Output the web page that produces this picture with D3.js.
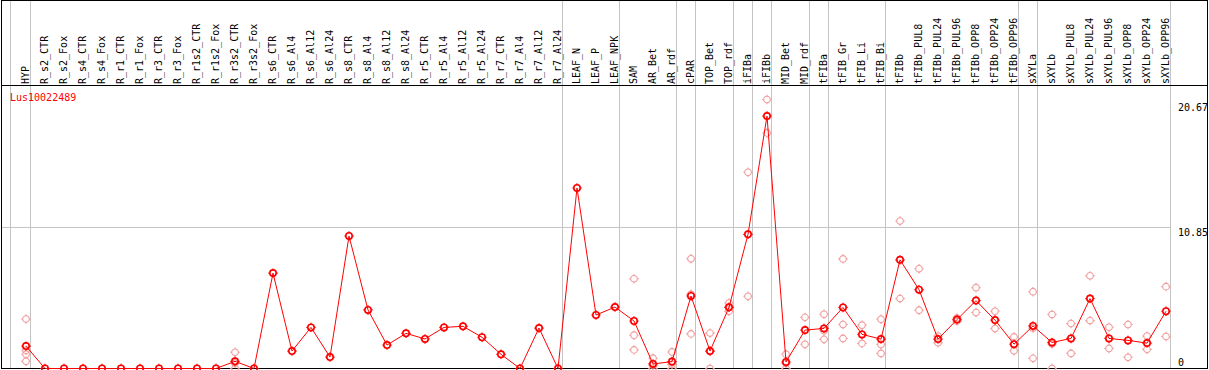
<!DOCTYPE html>
<html>
<head>
<meta charset="utf-8">
<script src="https://cdn.jsdelivr.net/npm/d3@7"></script>
<style>
  html, body { margin: 0; padding: 0; background: #fff; }
  svg { display: block; }
  text { font-family: "DejaVu Sans Mono", monospace; font-size: 10px; }
</style>
</head>
<body>
<svg id="chart" width="1209" height="370"></svg>
<script>
const geneId = "Lus10022489";

const samples = [
  "HYP", "R_s2_CTR", "R_s2_Fox", "R_s4_CTR", "R_s4_Fox", "R_r1_CTR", "R_r1_Fox",
  "R_r3_CTR", "R_r3_Fox", "R_r1s2_CTR", "R_r1s2_Fox", "R_r3s2_CTR", "R_r3s2_Fox",
  "R_s6_CTR", "R_s6_Al4", "R_s6_Al12", "R_s6_Al24", "R_s8_CTR", "R_s8_Al4",
  "R_s8_Al12", "R_s8_Al24", "R_r5_CTR", "R_r5_Al4", "R_r5_Al12", "R_r5_Al24",
  "R_r7_CTR", "R_r7_Al4", "R_r7_Al12", "R_r7_Al24", "LEAF_N", "LEAF_P", "LEAF_NPK",
  "SAM", "AR_Bet", "AR_rdf", "cPAR", "TOP_Bet", "TOP_rdf", "iFIBa", "iFIBb",
  "MID_Bet", "MID_rdf", "tFIBa", "tFIB_Gr", "tFIB_Li", "tFIB_Bi", "tFIBb",
  "tFIBb_PUL8", "tFIBb_PUL24", "tFIBb_PUL96", "tFIBb_OPP8", "tFIBb_OPP24", "tFIBb_OPP96",
  "sXYLa", "sXYLb", "sXYLb_PUL8", "sXYLb_PUL24", "sXYLb_PUL96", "sXYLb_OPP8",
  "sXYLb_OPP24", "sXYLb_OPP96"
];

const meanValues = [
  1.72, 0, 0, 0, 0, 0, 0, 0, 0, 0, 0, 0.55, 0,
  7.33, 1.34, 3.16, 0.88, 10.18, 4.5, 1.8, 2.7,
  2.27, 3.16, 3.24, 2.4, 1.09, 0, 3.11, 0,
  13.87, 4.11, 4.72,
  3.65, 0.35, 0.53, 5.57, 1.34, 4.7, 10.31, 19.4,
  0.5, 2.95, 3.08, 4.69, 2.62, 2.26, 8.35,
  6.06, 2.26, 3.76, 5.22, 3.72, 1.87,
  3.27, 2.0, 2.31, 5.37, 2.31, 2.16, 1.95, 4.4
];

const replicateValues = [
  [3.8, 1.4, 1.1, 0.55], [], [], [], [], [], [], [], [], [], [], [1.25, 0.4, 0], [],
  [], [], [], [], [], [], [], [],
  [], [], [], [], [], [], [], [],
  [], [], [],
  [6.89, 2.56, 1.43], [0.79, 0.25, 0], [1.27, 0.32, 0], [8.43, 5.7, 2.66],
  [2.72, 1.33, 0], [5.03, 4.72, 4.39], [15.08, 5.55], [20.67, 18.1],
  [1.1, 0.4, 0], [3.93, 1.86], [4.17, 2.9, 2.24], [8.42, 3.38, 2.31],
  [3.33, 1.93], [3.78, 1.85, 1.16], [11.33, 5.37],
  [7.66, 4.48], [2.49, 1.97], [3.88, 3.64], [6.21, 4.3], [4.4, 3.07], [2.43, 1.36],
  [5.9, 3.1, 0.78], [4.15, 1.89, 0], [3.45, 1.16], [7.12, 3.68], [3.17, 1.54],
  [3.38, 0.86], [2.49, 1.47], [6.29, 2.46]
];

const yTickValues = [0, 10.85, 20.67];
const yGridValues = [10.85];
// indices of samples after which a group separator is drawn
const groupEnds = [0, 28, 31, 34, 35, 37, 38, 39, 41, 42, 45, 52, 53, 60];

const svg = d3.select("#chart");
const headerBottom = 85.5, plotBottom = 368.5;
const left = 1.5, right = 1207.5;

const x = d3.scaleBand().domain(samples).range([11.5, 1170.5]).paddingInner(0).paddingOuter(0);
const xPoint = s => x(s) + 14.5;
const y = d3.scaleLinear().domain([0, 20.67]).range([plotBottom, 99.5]);

const gray = "#c4c4c4";
const red = "#ff0000";
const pink = "#f29b9b";

// vertical group separators (full height)
const sepX = [10.5].concat(groupEnds.map(i => x(samples[i]) + x.bandwidth()));
svg.append("g").selectAll("line").data(sepX).join("line")
  .attr("x1", d => d).attr("x2", d => d)
  .attr("y1", 0).attr("y2", plotBottom)
  .attr("stroke", gray).attr("stroke-width", 1);

// horizontal grid
svg.append("g").selectAll("line").data(yGridValues).join("line")
  .attr("x1", left).attr("x2", 1170.5)
  .attr("y1", d => Math.round(y(d)) + 0.5).attr("y2", d => Math.round(y(d)) + 0.5)
  .attr("stroke", gray).attr("stroke-width", 1);

// frame
svg.append("rect").attr("x", left).attr("y", 0.5)
  .attr("width", right - left).attr("height", plotBottom - 0.5)
  .attr("fill", "none").attr("stroke", "#000").attr("stroke-width", 1);
svg.append("line").attr("x1", left).attr("x2", right)
  .attr("y1", headerBottom).attr("y2", headerBottom)
  .attr("stroke", "#000").attr("stroke-width", 1);

// header labels
svg.append("g").selectAll("text").data(samples).join("text")
  .attr("transform", d => `translate(${xPoint(d) + 3.4},84) rotate(-90)`)
  .attr("text-anchor", "start")
  .attr("fill", "#000")
  .text(d => d);

// y tick labels
svg.append("g").selectAll("text").data(yTickValues).join("text")
  .attr("x", 1178)
  .attr("y", d => Math.max(111, Math.min(366, y(d) + 8.7)))
  .attr("fill", "#000")
  .text(d => d === 0 ? "0" : d3.format(".2f")(d));

// gene id
svg.append("text").attr("x", 10).attr("y", 101).attr("fill", red).text(geneId);

function marker(g, r, tick, color, sw, tsw) {
  g.append("circle").attr("r", r).attr("fill", "none").attr("stroke", color).attr("stroke-width", sw);
  [[0, -1], [0, 1], [-1, 0], [1, 0]].forEach(([dx, dy]) => {
    g.append("line")
      .attr("x1", dx * r).attr("y1", dy * r)
      .attr("x2", dx * (r + tick)).attr("y2", dy * (r + tick))
      .attr("stroke", color).attr("stroke-width", tsw);
  });
}

// replicate points
const reps = [];
samples.forEach((s, i) => replicateValues[i].forEach(v => reps.push({ s, v })));
svg.append("g").selectAll("g").data(reps).join("g")
  .attr("transform", d => `translate(${xPoint(d.s)},${y(d.v)})`)
  .each(function () { marker(d3.select(this), 3.3, 1.4, pink, 1.1, 1.1); });

// mean line
const means = samples.map((s, i) => ({ s, v: meanValues[i] }));
svg.append("path").datum(means)
  .attr("d", d3.line().x(d => xPoint(d.s)).y(d => y(d.v)))
  .attr("fill", "none").attr("stroke", red).attr("stroke-width", 1);

// mean points
svg.append("g").selectAll("g").data(means).join("g")
  .attr("transform", d => `translate(${xPoint(d.s)},${y(d.v)})`)
  .each(function () { marker(d3.select(this), 3.2, 1.5, red, 1.6, 1.2); });
</script>
</body>
</html>
